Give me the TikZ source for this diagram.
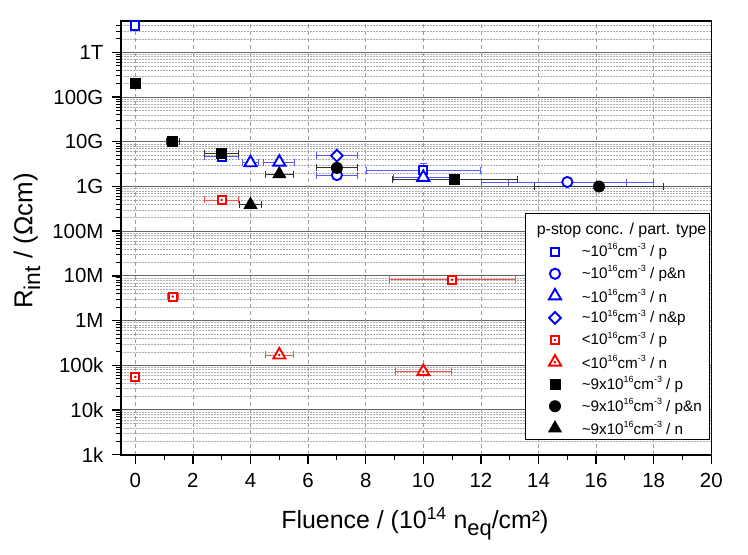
\documentclass[tikz,border=0pt]{standalone}
\usepackage{fontspec}
\setmainfont{Liberation Sans}
\usetikzlibrary{shapes.geometric}
\usetikzlibrary{calc}
\usetikzlibrary{arrows.meta}

\begin{document}
\begin{tikzpicture}[x=28.8bp, y=44.7bp,
    mk/.style={inner sep=0pt, line width=1.9bp},
    bsq/.style={mk, rectangle, draw=blue, fill=white, minimum size=8.2bp},
    bci/.style={mk, circle, draw=blue, fill=white, minimum size=10.2bp},
    btr/.style={mk, regular polygon, regular polygon sides=3, draw=blue, fill=white, minimum size=14bp},
    bdi/.style={mk, diamond, draw=blue, fill=white, minimum size=12.5bp},
    rsq/.style={mk, rectangle, draw=red, fill=white, minimum size=8bp,
        path picture={\fill[red] (path picture bounding box.center) circle (1.4bp);}},
    rtr/.style={mk, regular polygon, regular polygon sides=3, draw=red, fill=white, minimum size=14bp,
        path picture={\fill[red] ($(path picture bounding box.south)!0.33!(path picture bounding box.north)$) circle (1.4bp);}},
    ksq/.style={mk, rectangle, fill=black, minimum size=11bp},
    kci/.style={mk, circle, fill=black, minimum size=12bp},
    ktr/.style={mk, regular polygon, regular polygon sides=3, fill=black, minimum size=16.5bp},
    errb/.style={line width=0.9bp, {Bar[width=7bp]}-{Bar[width=7bp]}},
    gridminor/.style={gray!65, line width=0.5bp, dash pattern=on 2bp off 1bp},
    gridmajor/.style={black!60, line width=1bp},
    gridvert/.style={gray!75, line width=0.6bp, dash pattern=on 4bp off 3bp},
    ticklab/.style={font=\fontsize{20.5}{24}\selectfont},
    leglab/.style={font=\fontsize{15.3}{18}\selectfont, anchor=west}]

        % canvas
        \useasboundingbox (-135.3bp,-100.3bp) rectangle (612.7bp,454.7bp);

        % minor grid lines and minor y ticks
        \foreach \l in {0,...,9} {
            \foreach \m in {2,...,9} {
                \pgfmathsetmacro{\yy}{\l+log10(\m)}
                \ifdim \yy pt<9.69pt
                    \draw[gridminor] (-0.5,\yy) -- (20,\yy);
                    \draw[line width=1bp] (-0.5,\yy) -- ++(-5bp,0);
                \fi
            }
        }

        % major grid lines
        \foreach \l in {1,...,9}
            \draw[gridmajor] (-0.5,\l) -- (20,\l);

        % vertical grid lines
        \foreach \x in {0,2,...,18}
            \draw[gridvert] (\x,0) -- (\x,9.699);

        % frame
        \draw[line width=1.6bp] (-0.5,0) rectangle (20,9.699);

        % y ticks and labels
        \foreach \l/\t in {0/1k,1/10k,2/100k,3/1M,4/10M,5/100M,6/1G,7/10G,8/100G,9/1T} {
            \draw[line width=1.4bp] (-0.5,\l) -- ++(-9bp,0);
            \node[ticklab, anchor=east] (ylab\l) at ($(-0.5,\l)+(-14bp,0)$) {\t};
        }

        % x ticks and labels
        \foreach \x in {0,2,...,20} {
            \draw[line width=1.4bp] (\x,0) -- ++(0,-9bp);
            \node[ticklab] (xlab\x) at ($(\x,0)+(0,-25.3bp)$) {\x};
        }
        \foreach \x in {1,3,...,19}
            \draw[line width=1bp] (\x,0) -- ++(0,-5bp);

        % axis titles
        \node[font=\fontsize{25}{30}\selectfont, anchor=base] (xtitle) at (9.71,-1.647)
            {Fluence / (10\textsuperscript{14} n\raisebox{-0.3em}{\fontsize{22}{24}\selectfont eq}/cm²)};
        \node[font=\fontsize{26}{30}\selectfont, anchor=base, rotate=90] (ytitle) at (-3.576,4.781)
            {R\raisebox{-0.3em}{\fontsize{23}{26}\selectfont int} / (Ωcm)};

        % error bars, ~1e16
        \foreach \x/\m/\e/\d in {3/4.6/9/0.6, 10/2.3/9/2, 7/1.8/9/0.72, 15/1.26/9/3, 15/1.26/9/2.07,
                                 4/3.4/9/0.28, 5/3.5/9/0.55, 10/1.6/9/1.06, 7/4.9/9/0.72}
            \draw[errb, blue!65] ({\x-\d},{\e-3+log10(\m)}) -- ({\x+\d},{\e-3+log10(\m)});
        \draw[errb, blue!65] (10,{6+log10(1.6)}) -- (10,{6+log10(3.4)});

        % error bars, <1e16
        \foreach \x/\m/\e/\d in {1.3/3.45/6/0.2, 3/5/8/0.6, 11/8.2/6/2.2, 5/1.7/5/0.5, 10/7.2/4/1}
            \draw[errb, red!70] ({\x-\d},{\e-3+log10(\m)}) -- ({\x+\d},{\e-3+log10(\m)});

        % error bars, ~9e16
        \foreach \x/\m/\e/\d in {1.3/1/10/0.24, 3/5.6/9/0.6, 11.1/1.45/9/2.2, 7/2.6/9/0.72,
                                 16.1/1/9/2.27, 4/3.9/8/0.4, 5/1.9/9/0.5}
            \draw[errb, black!80] ({\x-\d},{\e-3+log10(\m)}) -- ({\x+\d},{\e-3+log10(\m)});

        % ~1e16 data
        \foreach \x/\m/\e [count=\i] in {0/4/12, 3/4.6/9, 10/2.3/9}
            \node[bsq] (bsq\i) at (\x,{\e-3+log10(\m)}) {};
        \foreach \x/\m/\e [count=\i] in {7/1.8/9, 15/1.26/9}
            \node[bci] (bci\i) at (\x,{\e-3+log10(\m)}) {};
        \foreach \x/\m/\e [count=\i] in {4/3.4/9, 5/3.5/9, 10/1.6/9}
            \node[btr] (btr\i) at (\x,{\e-3+log10(\m)}) {};
        \node[bdi] (bdi1) at (7,{6+log10(4.9)}) {};

        % <1e16 data
        \foreach \x/\m/\e [count=\i] in {0/5.5/4, 1.3/3.45/6, 3/5/8, 11/8.2/6}
            \node[rsq] (rsq\i) at (\x,{\e-3+log10(\m)}) {};
        \foreach \x/\m/\e [count=\i] in {5/1.7/5, 10/7.2/4}
            \node[rtr] (rtr\i) at (\x,{\e-3+log10(\m)}) {};

        % ~9e16 data
        \foreach \x/\m/\e [count=\i] in {0/2/11, 1.3/1/10, 3/5.6/9, 11.1/1.45/9}
            \node[ksq] (ksq\i) at (\x,{\e-3+log10(\m)}) {};
        \foreach \x/\m/\e [count=\i] in {7/2.6/9, 16.1/1/9}
            \node[kci] (kci\i) at (\x,{\e-3+log10(\m)}) {};
        \foreach \x/\m/\e [count=\i] in {4/3.9/8, 5/1.9/9}
            \node[ktr] (ktr\i) at (\x,{\e-3+log10(\m)}) {};

        % legend
        \draw[line width=0.8bp, fill=white] (13.556,0.3445) rectangle (19.95,5.40);
        \node[leglab, anchor=base west, font=\fontsize{16}{19}\selectfont] (legtitle) at (13.82,4.937) {p-stop conc. / part. type};
        \foreach \s/\p/\t [count=\i] in {bsq/{\textasciitilde10}/p, bci/{\textasciitilde10}/p\&n,
                btr/{\textasciitilde10}/n, bdi/{\textasciitilde10}/n\&p, rsq/{<10}/p, rtr/{<10}/n,
                ksq/{\textasciitilde9x10}/p, kci/{\textasciitilde9x10}/p\&n, ktr/{\textasciitilde9x10}/n} {
            \pgfmathsetmacro{\ly}{4.541-0.4938*(\i-1)}
            \node[\s] (leg\i) at (14.573,\ly) {};
            \node[leglab] (legtext\i) at (15.38,\ly)
                {\p\raisebox{0.45em}{\fontsize{9}{10}\selectfont 16}cm\raisebox{0.45em}{\fontsize{9}{10}\selectfont -3} / \t};
        }

    \end{tikzpicture}
\end{document}
